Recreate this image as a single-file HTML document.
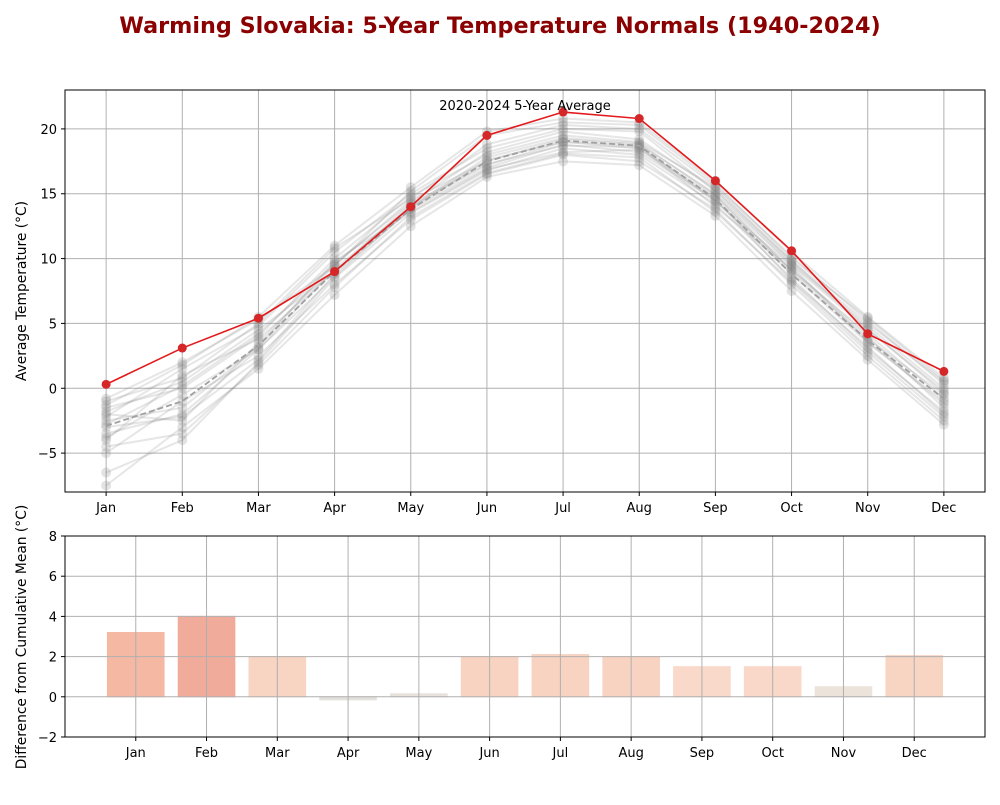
<!DOCTYPE html>
<html><head><meta charset="utf-8"><style>
body{margin:0;background:#fff;font-family:"Liberation Sans","DejaVu Sans",sans-serif}
svg text{font-family:"DejaVu Sans","Liberation Sans",sans-serif}
</style></head><body>
<svg id="c" width="1000" height="800" xmlns="http://www.w3.org/2000/svg">
<text x="500" y="33" text-anchor="middle" font-size="22.3" font-weight="bold" fill="#8b0000">Warming Slovakia: 5-Year Temperature Normals (1940-2024)</text>
</svg>
<script>
const months=["Jan","Feb","Mar","Apr","May","Jun","Jul","Aug","Sep","Oct","Nov","Dec"];
const recent=[0.3,3.1,5.4,9.0,14.0,19.5,21.3,20.8,16.0,10.6,4.2,1.3];
const meanNormal=[-2.9,-1.0,3.3,9.0,13.8,17.5,19.1,18.7,14.6,8.8,3.7,-0.8];
const p1=[-3.5,-2.0,3.0,9.2,14.0,17.2,19.0,18.5,14.8,9.0,3.8,-0.5];
const p2=[-6.5,-4.0,2.0,8.5,13.5,16.8,18.5,18.0,14.2,8.5,3.0,-1.8];
const p3=[-2.0,-2.5,3.5,9.5,14.5,17.5,19.2,18.8,15.0,9.5,4.5,-0.2];
const p4=[-5.0,-1.0,2.5,8.0,13.0,16.5,18.0,17.5,13.8,8.0,2.5,-2.5];
const p5=[-1.5,0.0,4.0,10.0,14.8,18.0,19.5,19.0,15.5,9.8,5.0,0.5];
const p6=[-3.0,-2.2,2.2,8.8,13.8,17.0,18.8,18.2,14.5,8.8,3.5,-1.0];
const p7=[-4.0,1.0,3.8,9.0,14.2,17.3,18.7,18.6,14.0,9.2,4.0,-1.5];
const p8=[-2.5,-1.5,3.2,9.8,13.6,16.9,18.2,18.4,14.6,8.3,3.2,-2.0];
const p9=[-7.5,-3.0,1.5,7.2,12.5,16.3,17.5,17.2,13.3,7.5,2.2,-2.8];
const p10=[-1.8,0.5,4.5,9.0,14.0,17.8,19.3,18.9,14.9,9.1,4.2,-0.8];
const p11=[-3.8,-0.5,3.0,8.6,13.9,17.6,19.0,18.7,14.4,9.4,3.6,-1.2];
const p12=[-2.2,1.5,4.8,10.5,15.0,18.5,20.0,19.8,15.2,9.6,4.8,0.0];
const p13=[-1.0,0.8,5.0,10.8,14.6,18.8,20.3,20.0,15.6,10.2,5.2,0.3];
const p14=[-0.8,2.0,5.3,9.4,15.2,19.5,20.5,20.3,15.8,10.0,5.4,0.6];
const p15=[-1.3,1.8,5.5,11.0,15.5,19.8,20.8,20.5,16.0,10.5,5.5,0.8];
const p16=[-2.8,0.2,4.2,9.6,14.3,18.2,19.8,19.2,15.3,9.8,4.6,-0.4];
const p17=[-4.5,-3.5,1.8,7.8,13.2,16.6,18.1,17.8,13.6,8.2,2.8,-2.2];
const periods=[p1,p2,p3,p4,p5,p6,p7,p8,p9,p10,p11,p12,p13,p14,p15,p16,p17];
const diffs=[3.2,4.0,2.0,-0.15,0.15,2.0,2.1,2.0,1.5,1.5,0.5,2.05];
const barColors=["#f4b8a3","#f0ab9a","#f8d4c3","#e4e1dd","#e8e2dc","#f8d3c1","#f8d3c1","#f8d3c1","#f9d9ca","#f9d8c9","#ece3da","#f8d4c3"];
const topTicks=[-5,0,5,10,15,20];
const botTicks=[-2,0,2,4,6,8];

const NS="http://www.w3.org/2000/svg";
const svg=document.getElementById('c');
function mk(t,a,p){const e=document.createElementNS(NS,t);for(const k in a)e.setAttribute(k,a[k]);(p||svg).appendChild(e);return e;}

const T={l:65,r:985,t:90,b:492};
const tx=i=>T.l+(i+0.54)/(11+1.08)*(T.r-T.l);
const ty=v=>T.b-(v+8)/31*(T.b-T.t);
const B={l:65,r:985,t:536,b:737};
const bx=i=>B.l+(i+1)/13*(B.r-B.l);
const by=v=>B.b-(v+2)/10*(B.b-B.t);

const gTop=mk('g',{});

months.forEach((m,i)=>{mk('line',{x1:tx(i),x2:tx(i),y1:T.t,y2:T.b,stroke:'#b0b0b0','stroke-width':1},gTop);
 const t=mk('text',{x:tx(i),y:T.b+20,'text-anchor':'middle','font-size':13});t.textContent=m;
 
 mk('line',{x1:tx(i),x2:tx(i),y1:T.b,y2:T.b+4,stroke:'#000'});});
topTicks.forEach(v=>{mk('line',{x1:T.l,x2:T.r,y1:ty(v),y2:ty(v),stroke:'#b0b0b0','stroke-width':1},gTop);
 const t=mk('text',{x:T.l-8,y:ty(v)+5,'text-anchor':'end','font-size':13});t.textContent=v<0?'\u2212'+(-v):v;
 
 mk('line',{x1:T.l-4,x2:T.l,y1:ty(v),y2:ty(v),stroke:'#000'});});

periods.forEach(p=>{
 const g=mk('g',{opacity:0.2});
 
 mk('polyline',{points:p.map((v,i)=>tx(i)+','+ty(v)).join(' '),fill:'none',stroke:'#808080','stroke-width':2},g);
});
periods.forEach(p=>{
 const g=mk('g',{opacity:0.22});
 
 p.forEach((v,i)=>mk('circle',{cx:tx(i),cy:ty(v),r:5,fill:'#808080'},g));
});
const ml=mk('polyline',{points:meanNormal.map((v,i)=>tx(i)+','+ty(v)).join(' '),fill:'none',stroke:'#a0a0a0','stroke-width':1.8,'stroke-dasharray':'6,3'});

const rl=mk('polyline',{points:recent.map((v,i)=>tx(i)+','+ty(v)).join(' '),fill:'none',stroke:'#e31a1c','stroke-width':1.6});

recent.forEach((v,i)=>{const c=mk('circle',{cx:tx(i),cy:ty(v),r:4.5,fill:'#d62728'});
 });
const ann=mk('text',{x:525,y:110,'text-anchor':'middle','font-size':13});ann.textContent='2020-2024 5-Year Average';

mk('rect',{x:T.l,y:T.t,width:T.r-T.l,height:T.b-T.t,fill:'none',stroke:'#000','stroke-width':1});
const yl=mk('text',{x:26,y:291,'text-anchor':'middle','font-size':13.8,transform:'rotate(-90 26 291)'});yl.textContent='Average Temperature (°C)';


diffs.forEach((v,i)=>{const w=0.8/13*(B.r-B.l);
 const r=mk('rect',{x:bx(i)-w/2,y:Math.min(by(v),by(0)),width:w,height:Math.abs(by(v)-by(0)),fill:barColors[i],stroke:barColors[i],'stroke-width':1});
 });
months.forEach((m,i)=>{mk('line',{x1:bx(i),x2:bx(i),y1:B.t,y2:B.b,stroke:'#b0b0b0','stroke-width':1});
 const t=mk('text',{x:bx(i),y:B.b+20,'text-anchor':'middle','font-size':13});t.textContent=m;
 
 mk('line',{x1:bx(i),x2:bx(i),y1:B.b,y2:B.b+4,stroke:'#000'});});
botTicks.forEach(v=>{mk('line',{x1:B.l,x2:B.r,y1:by(v),y2:by(v),stroke:'#b0b0b0','stroke-width':1});
 const t=mk('text',{x:B.l-8,y:by(v)+5,'text-anchor':'end','font-size':13});t.textContent=v<0?'\u2212'+(-v):v;
 
 mk('line',{x1:B.l-4,x2:B.l,y1:by(v),y2:by(v),stroke:'#000'});});
mk('rect',{x:B.l,y:B.t,width:B.r-B.l,height:B.b-B.t,fill:'none',stroke:'#000','stroke-width':1});
const yl2=mk('text',{x:26,y:637,'text-anchor':'middle','font-size':13.8,transform:'rotate(-90 26 637)'});yl2.textContent='Difference from Cumulative Mean (°C)';

</script>
</body></html>
